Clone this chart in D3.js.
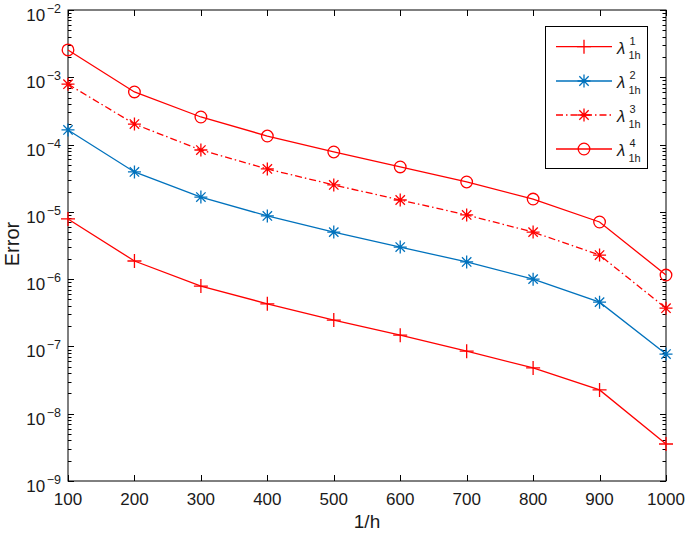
<!DOCTYPE html>
<html><head><meta charset="utf-8">
<script src="https://cdn.jsdelivr.net/npm/d3@7"></script>
<style>body{margin:0;background:#fff}svg{display:block}text{font-family:Arial,"Liberation Sans",Helvetica,sans-serif}</style>
</head><body><svg id="c" width="685" height="536"></svg>
<script>
const xValues = [100,200,300,400,500,600,700,800,900,1000];
const lambda1 = [7.85e-6,1.86e-6,7.9e-7,4.3e-7,2.46e-7,1.47e-7,8.5e-8,4.8e-8,2.26e-8,3.55e-9];
const lambda2 = [1.65e-4,3.92e-5,1.66e-5,8.7e-6,5.0e-6,3.0e-6,1.8e-6,1.0e-6,4.55e-7,7.7e-8];
const lambda3 = [7.9e-4,2.02e-4,8.3e-5,4.34e-5,2.51e-5,1.5e-5,9.0e-6,5.0e-6,2.28e-6,3.7e-7];
const lambda4 = [2.55e-3,6.05e-4,2.57e-4,1.34e-4,7.76e-5,4.65e-5,2.78e-5,1.55e-5,7.07e-6,1.15e-6];
const xTicks = [100,200,300,400,500,600,700,800,900,1000];
const yExponents = [-2,-3,-4,-5,-6,-7,-8,-9];
const seriesSup = ["1","2","3","4"];

const L=68,R=666,T=10,B=481;
const svg=d3.select("#c");
const x=d3.scaleLinear().domain([100,1000]).range([L,R]);
const y=d3.scaleLog().domain([1e-9,1e-2]).range([B,T]);

const series=[
 {v:lambda1,color:"#FF0000",dash:null,marker:"plus"},
 {v:lambda2,color:"#0072BD",dash:null,marker:"star"},
 {v:lambda3,color:"#FF0000",dash:"7,3,1.5,3",marker:"star"},
 {v:lambda4,color:"#FF0000",dash:null,marker:"circle"}
];

svg.append("rect").attr("x",L).attr("y",T).attr("width",R-L).attr("height",B-T).attr("fill","none").attr("stroke","#000").attr("stroke-width",1);

const gx=svg.append("g");
xTicks.forEach(t=>{
  const px=Math.round(x(t))+0.5;
  gx.append("line").attr("x1",px).attr("x2",px).attr("y1",B).attr("y2",B-6).attr("stroke","#000");
  gx.append("line").attr("x1",px).attr("x2",px).attr("y1",T).attr("y2",T+6).attr("stroke","#000");
  gx.append("text").attr("x",x(t)).attr("y",505).attr("text-anchor","middle").attr("font-size",17).attr("fill","#1a1a1a").text(t);
});

const gy=svg.append("g");
for(let e=-9;e<=-2;e++){
  const py=Math.round(y(Math.pow(10,e)))+0.5;
  [[L,1],[R,-1]].forEach(([ax,d])=>{
    gy.append("line").attr("x1",ax).attr("x2",ax+d*6).attr("y1",py).attr("y2",py).attr("stroke","#000");
  });
  if(e<-2){
    for(let m=2;m<=9;m++){
      const pm=Math.round(y(m*Math.pow(10,e)))+0.5;
      [[L,1],[R,-1]].forEach(([ax,d])=>{
        gy.append("line").attr("x1",ax).attr("x2",ax+d*3.5).attr("y1",pm).attr("y2",pm).attr("stroke","#000");
      });
    }
  }
}
const gyl=svg.append("g");
yExponents.forEach(e=>{
  const py=y(Math.pow(10,e));
  const t=gyl.append("text").attr("font-size",17).attr("fill","#1a1a1a").attr("y",py+11);
  const base=t.append("tspan").attr("x",0).text("10");
  t.append("tspan").attr("font-size",12.5).attr("dx",1.5).attr("dy",-8).text("\u2212"+Math.abs(e));
  const w=t.node().getComputedTextLength()+1.5;
  base.attr("x",61-w);
});

svg.append("text").attr("x",367).attr("y",528).attr("text-anchor","middle").attr("font-size",19).attr("fill","#1a1a1a").text("1/h");
svg.append("text").attr("transform","translate(19,244) rotate(-90)").attr("text-anchor","middle").attr("font-size",20).attr("fill","#1a1a1a").text("Error");

function drawMarker(g,type,cx,cy,color){
  if(type==="plus"){
    g.append("path").attr("d",`M${cx-7},${cy}H${cx+7}M${cx},${cy-7}V${cy+7}`).attr("stroke",color).attr("stroke-width",1.3).attr("fill","none");
  } else if(type==="star"){
    const r=6.5,d=r*0.72;
    g.append("path").attr("d",`M${cx-r},${cy}H${cx+r}M${cx},${cy-r}V${cy+r}M${cx-d},${cy-d}L${cx+d},${cy+d}M${cx-d},${cy+d}L${cx+d},${cy-d}`).attr("stroke",color).attr("stroke-width",1.3).attr("fill","none");
  } else {
    g.append("circle").attr("cx",cx).attr("cy",cy).attr("r",5.8).attr("stroke",color).attr("stroke-width",1.3).attr("fill","none");
  }
}

const line=d3.line().x((d,i)=>x(xValues[i])).y(d=>y(d));
series.forEach(s=>{
  const g=svg.append("g");
  g.append("path").attr("d",line(s.v)).attr("fill","none").attr("stroke",s.color).attr("stroke-width",1.3).attr("stroke-dasharray",s.dash);
  s.v.forEach((v,i)=>drawMarker(g,s.marker,x(xValues[i]),y(v),s.color));
});

const lg=svg.append("g");
lg.append("rect").attr("x",545.5).attr("y",26.5).attr("width",102).attr("height",142).attr("fill","#fff").attr("stroke","#000").attr("stroke-width",1);
const ly=[46.7,81,115,149];
series.forEach((s,i)=>{
  const yy=ly[i];
  lg.append("line").attr("x1",556).attr("x2",612).attr("y1",yy).attr("y2",yy).attr("stroke",s.color).attr("stroke-width",1.3).attr("stroke-dasharray",s.dash);
  drawMarker(lg,s.marker,584,yy,s.color);
  lg.append("text").attr("x",617).attr("y",yy+7).attr("font-size",17).attr("font-style","italic").attr("fill","#1a1a1a").attr("font-family","'Liberation Sans',Arial,sans-serif").text("λ");
  lg.append("text").attr("x",629.5).attr("y",yy-2).attr("font-size",11).attr("fill","#1a1a1a").text(seriesSup[i]);
  lg.append("text").attr("x",628.5).attr("y",yy+12.5).attr("font-size",11).attr("fill","#1a1a1a").text("1h");
});
</script></body></html>
